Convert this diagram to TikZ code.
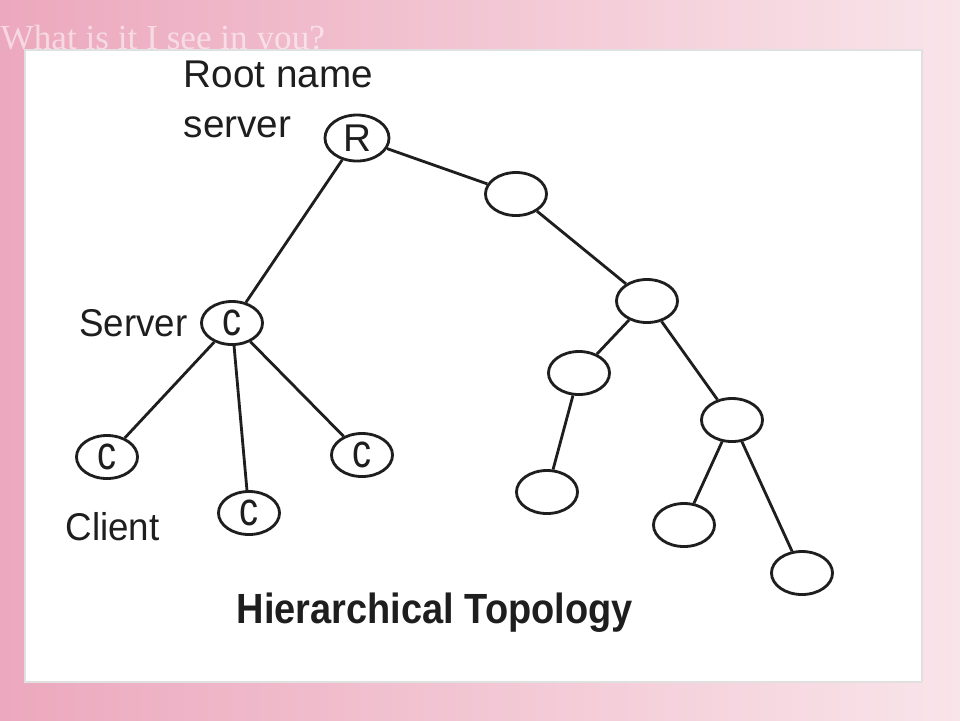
\documentclass[tikz,border=0pt]{standalone}
\usepackage{graphicx}
\usepackage{fontspec}
\setmainfont{Liberation Sans}
\newfontfamily\decofont{Liberation Serif}
\usetikzlibrary{shapes.geometric}
\usetikzlibrary{positioning}

\definecolor{bgdeep}{RGB}{236,168,190}
\definecolor{bgpale}{RGB}{249,228,234}
\definecolor{inkgray}{RGB}{30,30,30}

\newcommand{\hostletter}[1]{\scalebox{0.8}[1]{\fontsize{13.5}{15}\selectfont #1}}

\begin{document}
\begin{tikzpicture}[x=0.01cm, y=-0.01cm,
        host/.style={ellipse, draw=inkgray, line width=0.8pt, fill=white, minimum width=0.61cm, minimum height=0.43cm, inner sep=0pt, text=inkgray, font=\fontsize{11}{13}\selectfont},
        link/.style={draw=inkgray, line width=0.8pt},
        lbl/.style={inner sep=0pt, text=inkgray, font=\fontsize{11}{14.2}\selectfont}]
                \useasboundingbox (0, 0) rectangle (960, 720);
                \shade[left color=bgdeep, right color=bgpale] (0, 0) rectangle (960, 720);
                \node[anchor=base west, inner sep=0pt, text=white, opacity=0.55, font=\decofont\fontsize{10}{12}\selectfont] (motto) at (0, 49) {What is it I see in you?};
                \fill[white, draw=black!12] (25, 50) rectangle (922, 682);
                \node[host, minimum width=0.64cm, minimum height=0.46cm] (R) at (357, 138) {R};
                \node[host] (n1) at (516, 194) {};
                \node[host] (n2) at (647, 301) {};
                \node[host] (n3) at (579, 373) {};
                \node[host] (n4) at (732, 420) {};
                \node[host] (n5) at (547, 492) {};
                \node[host] (n6) at (684, 525) {};
                \node[host] (n7) at (802, 573) {};
                \node[host] (srv) at (232, 323) {\hostletter{c}};
                \node[host] (cl1) at (107, 457) {\hostletter{c}};
                \node[host] (cl2) at (249, 513) {\hostletter{c}};
                \node[host] (cl3) at (362, 455) {\hostletter{c}};
                \draw[link] (R) -- (srv);
                \draw[link] (R) -- (n1);
                \draw[link] (n1) -- (n2);
                \draw[link] (n2) -- (n3);
                \draw[link] (n2) -- (n4);
                \draw[link] (n3) -- (n5);
                \draw[link] (n4) -- (n6);
                \draw[link] (n4) -- (n7);
                \draw[link] (srv) -- (cl1);
                \draw[link] (srv) -- (cl2);
                \draw[link] (srv) -- (cl3);
                \node[lbl, anchor=north west, align=left] (rootlbl) at (183, 60) {Root name\\server};
                \node[lbl, left=0.12cm of srv] (srvlbl) {\scalebox{0.95}[1]{Server}};
                \node[lbl, anchor=base west] (clientlbl) at (65, 540) {\scalebox{0.95}[1]{Client}};
                \node[lbl, anchor=base west, font=\bfseries\fontsize{12}{14}\selectfont] (title) at (236, 623) {\scalebox{0.9}[1]{Hierarchical Topology}};
            \end{tikzpicture}
\end{document}
